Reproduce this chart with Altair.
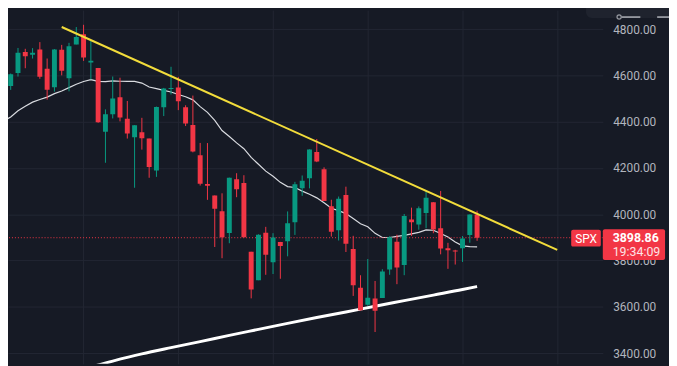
import altair as alt
import pandas as pd

BG = "#161a25"
GRID = "#232733"
GREEN = "#089981"
RED = "#f23645"
TXT = "#b2b5be"

# Weekly SPX candles (week start)
weeks = ["2021-10-18", "2021-10-25", "2021-11-01", "2021-11-08", "2021-11-15", "2021-11-22",
         "2021-11-29", "2021-12-06", "2021-12-13", "2021-12-20", "2021-12-27",
         "2022-01-03", "2022-01-10", "2022-01-18", "2022-01-24", "2022-01-31", "2022-02-07",
         "2022-02-14", "2022-02-22", "2022-02-28", "2022-03-07", "2022-03-14", "2022-03-21",
         "2022-03-28", "2022-04-04", "2022-04-11", "2022-04-18", "2022-04-25", "2022-05-02",
         "2022-05-09", "2022-05-16", "2022-05-23", "2022-05-31", "2022-06-06", "2022-06-13",
         "2022-06-21", "2022-06-27", "2022-07-05", "2022-07-11", "2022-07-18", "2022-07-25",
         "2022-08-01", "2022-08-08", "2022-08-15", "2022-08-22", "2022-08-29", "2022-09-06",
         "2022-09-12", "2022-09-19", "2022-09-26", "2022-10-03", "2022-10-10", "2022-10-17",
         "2022-10-24", "2022-10-31", "2022-11-07", "2022-11-14", "2022-11-21", "2022-11-28",
         "2022-12-05", "2022-12-12", "2022-12-19", "2022-12-27", "2023-01-03", "2023-01-09",
         "2023-01-17"]
opens = [4463.7, 4553.7, 4610.6, 4701.5, 4689.3, 4712.0, 4628.8, 4548.4, 4710.3, 4587.9, 4733.9,
         4778.1, 4655.3, 4632.2, 4356.3, 4431.8, 4505.8, 4412.6, 4332.7, 4354.2, 4327.0, 4188.8,
         4462.4, 4541.1, 4548.0, 4462.6, 4385.6, 4255.3, 4130.6, 4081.3, 4013.0, 3919.4, 4151.1,
         4134.7, 3838.1, 3715.3, 3920.8, 3792.6, 3880.9, 3883.8, 3965.7, 4112.4, 4155.9, 4269.4,
         4195.1, 4034.6, 3930.9, 4083.7, 3849.9, 3682.7, 3609.8, 3636.7, 3638.7, 3761.5, 3881.9,
         3780.7, 3977.9, 3956.2, 4005.4, 4052.0, 3939.3, 3853.8, 3843.3, 3853.3, 3910.8, 3999.3]
highs = [4559.7, 4608.1, 4718.5, 4714.9, 4717.8, 4743.8, 4672.9, 4713.6, 4731.9, 4740.7, 4808.9,
         4818.6, 4748.8, 4632.2, 4453.2, 4595.3, 4590.0, 4489.6, 4385.0, 4416.8, 4327.0, 4465.4,
         4546.0, 4637.3, 4593.5, 4471.0, 4512.9, 4308.4, 4307.7, 4081.3, 4090.7, 4158.5, 4177.5,
         4168.8, 3838.1, 3913.7, 3945.9, 3918.5, 3880.9, 4012.4, 4140.2, 4167.7, 4280.5, 4325.3,
         4203.0, 4062.9, 4076.8, 4119.3, 3907.1, 3736.7, 3806.9, 3712.0, 3762.8, 3905.4, 3911.8,
         4001.5, 4028.8, 4034.0, 4100.5, 4052.5, 4101.0, 3876.8, 3846.7, 3906.0, 3999.3, 4015.4]
lows = [4447.5, 4537.4, 4595.1, 4630.9, 4672.8, 4585.4, 4495.1, 4529.8, 4600.2, 4531.1, 4733.9,
        4662.7, 4582.2, 4395.3, 4222.6, 4414.0, 4401.4, 4327.2, 4114.7, 4279.5, 4157.9, 4161.7,
        4424.3, 4517.7, 4450.0, 4381.3, 4267.6, 4124.3, 4062.5, 3858.9, 3810.3, 3875.1, 4073.9,
        3900.2, 3636.9, 3715.3, 3738.7, 3742.1, 3721.6, 3818.6, 3911.0, 4079.8, 4112.1, 4225.3,
        4057.7, 3903.7, 3886.8, 3837.1, 3647.5, 3584.1, 3604.9, 3491.6, 3638.7, 3738.7, 3698.2,
        3737.0, 3906.5, 3933.4, 3940.0, 3918.4, 3827.1, 3764.5, 3783.0, 3794.3, 3877.3, 3885.5]
closes = [4544.9, 4605.4, 4697.5, 4682.9, 4698.0, 4594.6, 4538.4, 4712.0, 4620.6, 4725.8, 4766.2,
          4677.0, 4662.9, 4397.9, 4431.9, 4500.5, 4418.6, 4348.9, 4384.7, 4328.9, 4204.3, 4463.1,
          4543.1, 4545.9, 4488.3, 4392.6, 4271.8, 4131.9, 4123.3, 4023.9, 3901.4, 4158.2, 4108.5,
          3900.9, 3674.8, 3911.7, 3825.3, 3899.4, 3863.2, 3961.6, 4130.3, 4145.2, 4280.2, 4228.5,
          4057.7, 3924.3, 4067.4, 3873.3, 3693.2, 3585.6, 3639.7, 3583.1, 3752.8, 3901.1, 3770.6,
          3992.9, 3965.3, 4026.1, 4071.7, 3934.4, 3852.4, 3844.8, 3839.5, 3895.1, 3999.1, 3898.86]
# 20-week moving average (thin white line)
ma20 = [4402.7, 4420.6, 4447.1, 4467.2, 4484.5, 4495.8, 4506.3, 4521.3, 4532.6, 4547.1, 4562.0,
        4573.7, 4581.4, 4574.5, 4573.2, 4576.6, 4574.7, 4574.3, 4574.0, 4566.9, 4549.9, 4542.7,
        4535.0, 4528.2, 4517.7, 4507.6, 4494.3, 4465.2, 4440.4, 4405.3, 4362.0, 4336.1, 4308.4,
        4283.5, 4245.7, 4216.2, 4186.6, 4164.1, 4138.0, 4119.7, 4116.0, 4100.1, 4086.9, 4071.1,
        4049.5, 4026.1, 4015.9, 4003.0, 3981.5, 3959.5, 3946.5, 3917.7, 3899.9, 3899.9, 3904.7,
        3908.8, 3915.8, 3922.1, 3932.5, 3931.2, 3917.3, 3902.3, 3880.2, 3863.6, 3860.6, 3859.4]

# 200-week moving average (thick white line), read at a few weeks (index from 2022-01-03)
ma200_idx = [-2, 0, 4, 8, 12, 16, 20, 24, 28, 32, 36, 40, 44, 48, 52, 54]
ma200_val = [3315, 3332, 3366, 3397, 3424, 3450, 3477, 3503, 3529, 3554, 3578, 3603, 3627, 3651, 3675, 3688]

# Yellow trend line
trend_idx = [-3, 65]
trend_val = [4809, 3846]

quarter_ticks = [0, 13, 26, 39, 52, 65]
price_ticks = [3400, 3600, 3800, 4000, 4200, 4400, 4600, 4800]
last_price = [3898.86]
countdown = ["19:34:09"]

idx = [k - 11 for k in range(len(weeks))]
df = pd.DataFrame({"i": idx, "week": weeks, "open": opens, "high": highs,
                   "low": lows, "close": closes, "ma20": ma20})
df200 = pd.DataFrame({"i": ma200_idx, "v": ma200_val})
dft = pd.DataFrame({"i": trend_idx, "v": trend_val})
dfp = pd.DataFrame({"p": last_price, "t": countdown, "name": ["SPX"]})
dfone = pd.DataFrame({"a": [0]})

xs = alt.Scale(domain=[-9.693, 70.573], nice=False, zero=False)
ys = alt.Scale(domain=[3354.0, 4881.9], nice=False, zero=False)
xax = alt.Axis(values=quarter_ticks, grid=True, gridColor=GRID, labels=False, ticks=False,
               domain=False, title=None)
yax = alt.Axis(orient="right", values=price_ticks, format=".2f", grid=True, gridColor=GRID,
               ticks=False, tickSize=0, domain=False, labelPadding=10, labelColor=TXT,
               labelFont="Roboto", labelFontSize=12, title=None)


def X(f):
    return alt.X(f, scale=xs, axis=xax)


def Y(f):
    return alt.Y(f, scale=ys, axis=yax)


color = alt.condition("datum.close >= datum.open", alt.value(GREEN), alt.value(RED))

wicks = alt.Chart(df).mark_rule(strokeWidth=1, clip=True).encode(
    x=X("i:Q"), y=Y("low:Q"), y2="high:Q", color=color,
)

bodies = alt.Chart(df).mark_bar(size=5, clip=True, orient="vertical").encode(
    x=X("i:Q"), y=Y("open:Q"), y2="close:Q", color=color,
)

ma20_line = alt.Chart(df).mark_line(strokeWidth=1.2, color="#d9dbe0", clip=True).encode(
    x=X("i:Q"), y=Y("ma20:Q"),
)

ma200_line = alt.Chart(df200).mark_line(strokeWidth=3, color="#ffffff", clip=True,
                                        interpolate="monotone").encode(
    x=X("i:Q"), y=Y("v:Q"),
)

trend_line = alt.Chart(dft).mark_line(strokeWidth=2, color="#f2dc3b", clip=True).encode(
    x=X("i:Q"), y=Y("v:Q"),
)

price_rule = alt.Chart(dfp).mark_rule(strokeDash=[1, 2], strokeWidth=1, color=RED, clip=True).encode(
    y=Y("p:Q"),
)

spx_box = alt.Chart(dfp).mark_rect(color=RED, cornerRadius=2, yOffset=-8, y2Offset=9).encode(
    x=alt.value(570), x2=alt.value(600), y=Y("p:Q"), y2="p:Q",
)
spx_text = alt.Chart(dfp).mark_text(color="#ffffff", fontSize=12, font="Roboto",
                                    align="center", baseline="middle", dy=1).encode(
    x=alt.value(585), y=Y("p:Q"), text="name:N",
)

price_box = alt.Chart(dfp).mark_rect(color=RED, cornerRadius=2, yOffset=-8.5, y2Offset=22.5).encode(
    x=alt.value(602), x2=alt.value(665), y=Y("p:Q"), y2="p:Q",
)
price_text = alt.Chart(dfp).mark_text(color="#ffffff", fontSize=12.5, font="Roboto", fontWeight="bold",
                                      align="left", baseline="middle", dy=0).encode(
    x=alt.value(612), y=Y("p:Q"), text=alt.Text("p:Q", format=".2f"),
)
time_text = alt.Chart(dfp).mark_text(color="#fde4e6", fontSize=12.5, font="Roboto",
                                     align="left", baseline="middle", dy=14).encode(
    x=alt.value(612), y=Y("p:Q"), text="t:N",
)

toolbar = alt.Chart(dfone).mark_rect(color="#1f232e", cornerRadius=6).encode(
    x=alt.value(585), x2=alt.value(700), y=alt.value(-14), y2=alt.value(8),
)
icon1 = alt.Chart(dfone).mark_rule(color="#c8cad0", strokeWidth=1.3).encode(
    x=alt.value(621), x2=alt.value(640), y=alt.value(7),
)
icon2 = alt.Chart(dfone).mark_rule(color="#c8cad0", strokeWidth=1.3).encode(
    x=alt.value(657), x2=alt.value(669), y=alt.value(7),
)
icon_dot = alt.Chart(dfone).mark_point(color="#c8cad0", size=18, filled=False, strokeWidth=1.2).encode(
    x=alt.value(618.5), y=alt.value(7),
)

chart = alt.layer(
    ma200_line, ma20_line, price_rule, wicks, bodies, trend_line,
    spx_box, spx_text, price_box, price_text, time_text, toolbar, icon1, icon2, icon_dot,
).properties(
    width=602, height=358,
    background=BG,
    padding={"left": 0, "top": 0, "right": 67, "bottom": 0},
    autosize=alt.AutoSizeParams(type="none"),
).configure_view(strokeWidth=0)

chart.save("out.html", embed_options={"renderer": "svg", "actions": False})
